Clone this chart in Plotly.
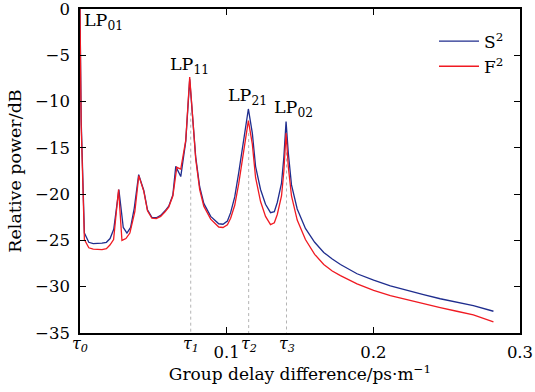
import plotly.graph_objects as go

# ---- data ----
s2_x = [0.0, 0.0008, 0.003, 0.006, 0.009, 0.012, 0.015, 0.018, 0.0205, 0.023, 0.0265,
        0.0295, 0.032, 0.0345, 0.037, 0.040, 0.0435, 0.046, 0.049, 0.052, 0.055,
        0.058, 0.0605, 0.0633, 0.0653, 0.0687, 0.0721, 0.0748, 0.0773, 0.0789,
        0.0816, 0.0844, 0.0891, 0.0946, 0.0975, 0.1005, 0.1027, 0.1055, 0.1082,
        0.1116, 0.1148, 0.1175, 0.1197, 0.1231, 0.1265, 0.1299, 0.1325, 0.1345,
        0.1374, 0.1390, 0.1405, 0.1420, 0.1442, 0.1481, 0.1537, 0.1600, 0.1662,
        0.1720, 0.1776, 0.1889, 0.2002, 0.2116, 0.2229, 0.2342, 0.2456, 0.2569,
        0.2682, 0.2819]
s2_y = [0.0, -12.0, -24.2, -25.2, -25.35, -25.35, -25.3, -25.2, -24.8, -23.8, -19.5,
        -23.6, -24.2, -23.6, -21.5, -17.9, -19.6, -21.7, -22.5, -22.55, -22.3,
        -21.8, -21.3, -20.1, -17.0, -18.1, -14.3, -7.6, -12.7, -16.0,
        -19.2, -21.0, -22.4, -23.2, -23.25, -22.9, -22.0, -20.3, -17.7,
        -14.1, -10.8, -13.4, -17.0, -19.5, -21.1, -22.0, -21.9, -20.9,
        -18.8, -16.0, -12.15, -15.5, -19.0, -21.6, -23.7, -25.2, -26.3,
        -27.0, -27.6, -28.6, -29.3, -29.9, -30.4, -30.85, -31.3, -31.7,
        -32.05, -32.65]

f2_x = [0.0, 0.0008, 0.003, 0.006, 0.009, 0.012, 0.015, 0.018, 0.0204, 0.0229, 0.0263,
        0.0286, 0.0313, 0.034, 0.0374, 0.0401, 0.0435, 0.046, 0.049, 0.052, 0.055,
        0.058, 0.0605, 0.0633, 0.066, 0.0687, 0.0721, 0.0748, 0.0773, 0.0789,
        0.0816, 0.0844, 0.0891, 0.0946, 0.0975, 0.1005, 0.1027, 0.1055, 0.1082,
        0.1116, 0.1148, 0.1175, 0.1197, 0.1231, 0.1265, 0.1299, 0.1325, 0.1345,
        0.1374, 0.1390, 0.1405, 0.1420, 0.1442, 0.1481, 0.1537, 0.1600, 0.1662,
        0.1720, 0.1776, 0.1889, 0.2002, 0.2116, 0.2229, 0.2342, 0.2456, 0.2569,
        0.2682, 0.2819]
f2_y = [0.0, -12.5, -24.9, -25.8, -25.95, -26.0, -26.0, -25.9, -25.5, -24.9, -19.5,
        -25.0, -24.8, -24.2, -21.9, -18.0, -19.7, -21.8, -22.6, -22.65, -22.4,
        -21.9, -21.4, -20.2, -17.1, -17.3, -14.2, -7.35, -12.9, -16.2,
        -19.5, -21.3, -22.7, -23.55, -23.6, -23.3, -22.6, -21.2, -18.9,
        -15.6, -12.05, -14.6, -18.2, -20.8, -22.4, -23.3, -23.1, -22.2,
        -20.2, -17.5, -13.4, -17.0, -20.2, -22.8, -24.9, -26.5, -27.6,
        -28.3, -28.8, -29.7, -30.4, -30.95, -31.4, -31.85, -32.25, -32.65,
        -33.05, -33.8]

tau_x = [0.0, 0.0755, 0.1150, 0.1408]
tau_labels = ["τ<sub>0</sub>", "τ<sub>1</sub>", "τ<sub>2</sub>", "τ<sub>3</sub>"]
tau_line_top = [None, -11.2, -13.4, -15.5]

peak_labels = ["LP<sub>01</sub>", "LP<sub>11</sub>", "LP<sub>21</sub>", "LP<sub>02</sub>"]
peak_lx = [0.0015, 0.0745, 0.1145, 0.1455]
peak_ly = [-1.4, -6.1, -9.5, -10.7]
peak_anchor = ["left", "center", "center", "center"]

x_ticks = [0.1, 0.2, 0.3]
x_ticktext = ["0.1", "0.2", "0.3"]
y_ticks = [0, -5, -10, -15, -20, -25, -30, -35]

FONT = "DejaVu Serif"
BLUE = "#1f2d8e"
RED = "#f01a22"

fig = go.Figure()

# dotted guide lines
for tx, top in zip(tau_x, tau_line_top):
    if top is None:
        continue
    fig.add_shape(type="line", x0=tx, x1=tx, y0=top, y1=-35, xref="x", yref="y",
                  line=dict(color="#b4b4b4", width=1, dash="dot"), layer="below")

fig.add_trace(go.Scatter(x=s2_x, y=s2_y, mode="lines", name="S<sup>2</sup>",
                         line=dict(color=BLUE, width=1.3)))
fig.add_trace(go.Scatter(x=f2_x, y=f2_y, mode="lines", name="F<sup>2</sup>",
                         line=dict(color=RED, width=1.3)))

for txt, lx, ly, anc in zip(peak_labels, peak_lx, peak_ly, peak_anchor):
    fig.add_annotation(x=lx, y=ly, text=txt, showarrow=False, xanchor=anc,
                       yanchor="middle", font=dict(family=FONT, size=17.5, color="black"))

for tx, tl in zip(tau_x, tau_labels):
    fig.add_annotation(x=tx, y=-35, text="<i>" + tl + "</i>", showarrow=False,
                       xanchor="center", yanchor="top", yshift=1,
                       font=dict(family=FONT, size=16, color="black"))

fig.update_layout(
    width=535, height=392,
    margin=dict(l=80, r=15, t=9, b=59, autoexpand=False),
    paper_bgcolor="white", plot_bgcolor="white",
    font=dict(family=FONT, size=16, color="black"),
    showlegend=True,
    legend=dict(x=0.975, y=0.955, xanchor="right", yanchor="top",
                bgcolor="rgba(0,0,0,0)", font=dict(family=FONT, size=17),
                tracegroupgap=0, itemwidth=40),
    xaxis=dict(range=[0, 0.3], tickvals=x_ticks, ticktext=x_ticktext,
               ticks="inside", ticklen=6, tickwidth=1, tickcolor="black",
               showline=True, linecolor="black", linewidth=1.6, mirror="ticks",
               showgrid=False, zeroline=False, ticklabelstandoff=3, automargin=False,
               ticklabeloverflow="allow",
               tickfont=dict(family=FONT, size=16.5),
               title=dict(text="Group delay difference/ps·m<sup>−1</sup>",
                          font=dict(family=FONT, size=17), standoff=6)),
    yaxis=dict(range=[-35, 0], tickvals=y_ticks,
               ticks="inside", ticklen=6, tickwidth=1, tickcolor="black",
               showline=True, linecolor="black", linewidth=1.6, mirror="ticks",
               showgrid=False, zeroline=False, automargin=False,
               ticklabeloverflow="allow", ticklabelstandoff=5,
               tickfont=dict(family=FONT, size=16.5),
               title=dict(text="Relative power/dB",
                          font=dict(family=FONT, size=17.5), standoff=9)),
)

fig.write_html("out.html", config={"displayModeBar": False},
               post_script="document.body.style.margin='0';")
